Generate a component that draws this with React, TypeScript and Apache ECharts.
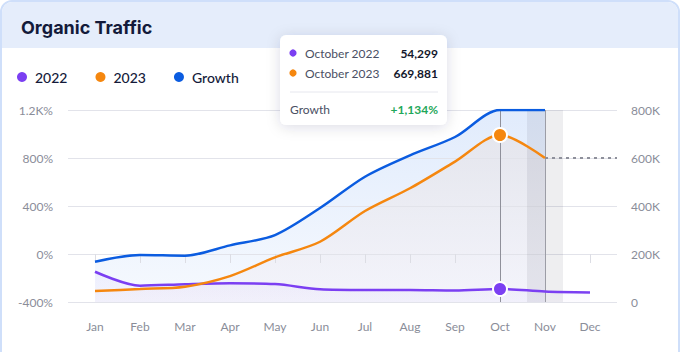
import React, { useEffect, useRef } from "react";
import * as echarts from "echarts";

const months = ["Jan", "Feb", "Mar", "Apr", "May", "Jun", "Jul", "Aug", "Sep", "Oct", "Nov", "Dec"];
const traffic2022 = [126000, 68000, 74000, 78000, 75000, 53000, 50000, 50000, 48000, 54299, 44000, 40000];
const traffic2023 = [46000, 54000, 64000, 108000, 186000, 251000, 379000, 474000, 585000, 696000, 600000];
const growthPct = [-64, -8, -14, 72, 158, 383, 644, 822, 975, 1200, 1200];
const forecast2023 = 600000;
const highlightIndex = 9; // October
const currentIndex = 10; // November
const leftTickLabels: Record<number, string> = { "-400": "-400%", 0: "0%", 400: "400%", 800: "800%", 1200: "1.2K%" };
const rightTickLabels: Record<number, string> = { 0: "0", 200000: "200K", 400000: "400K", 600000: "600K", 800000: "800K" };
const tooltipRows = [
  { label: "October 2022", value: "54,299", color: "#7b3ff2" },
  { label: "October 2023", value: "669,881", color: "#f5870f" },
];
const tooltipGrowth = { label: "Growth", value: "+1,134%" };

const X_MIN = -0.6;
const X_MAX = 11.6;

const C_PURPLE = "#7b3ff2";
const C_ORANGE = "#f5870f";
const C_BLUE = "#0b5ce0";
const FONT = "Lato";
const SMOOTH = 0.3;

const toPairs = (arr: number[], hi?: number, style?: any) =>
  arr.map((v, i) =>
    i === hi
      ? { value: [i, v], symbol: "circle", symbolSize: 14, itemStyle: style }
      : { value: [i, v] }
  );

export default function App() {
  const ref = useRef<HTMLDivElement>(null);
  useEffect(() => {
    if (!ref.current) return;
    const chart = echarts.init(ref.current, undefined, { renderer: "svg" });
    const idx = months.map((_, i) => i);
    const tipX = 280;
    const tipY = 35;
    const Z = 100;
    const tipChildren: any[] = [
      {
        type: "rect",
        z: Z,
        shape: { x: 0, y: 0, width: 167, height: 90, r: 6 },
        style: { fill: "#ffffff", shadowBlur: 14, shadowColor: "rgba(20,30,70,0.14)", shadowOffsetY: 2 },
      },
    ];
    tooltipRows.forEach((r, i) => {
      const y = 18 + i * 20;
      tipChildren.push(
        { type: "circle", z: Z + 1, shape: { cx: 13, cy: y, r: 3.6 }, style: { fill: r.color } },
        {
          type: "text",
          z: Z + 1,
          x: 25,
          y,
          style: { text: r.label, fill: "#4a4f63", font: `12px ${FONT}`, verticalAlign: "middle" },
        },
        {
          type: "text",
          z: Z + 1,
          x: 158,
          y,
          style: { text: r.value, fill: "#14182c", font: `bold 12px ${FONT}`, align: "right", verticalAlign: "middle" },
        }
      );
    });
    tipChildren.push(
      { type: "line", z: Z + 1, shape: { x1: 10, y1: 57, x2: 158, y2: 57 }, style: { stroke: "#e6e7ee", lineWidth: 1 } },
      {
        type: "text",
        z: Z + 1,
        x: 10,
        y: 74,
        style: { text: tooltipGrowth.label, fill: "#4a4f63", font: `12px ${FONT}`, verticalAlign: "middle" },
      },
      {
        type: "text",
        z: Z + 1,
        x: 158,
        y: 74,
        style: { text: tooltipGrowth.value, fill: "#1fa85a", font: `bold 12px ${FONT}`, align: "right", verticalAlign: "middle" },
      }
    );

    const areaBase = {
      type: "line",
      smooth: SMOOTH,
      symbol: "none",
      silent: true,
      z: 2,
      lineStyle: { width: 0 },
    };
    const lineBase = {
      type: "line",
      smooth: SMOOTH,
      symbol: "none",
      showSymbol: true,
      z: 5,
    };

    const option: any = {
      animation: false,
      textStyle: { fontFamily: FONT },
      title: {
        text: "Organic Traffic",
        left: 16,
        top: 13,
        textStyle: { fontSize: 18, fontWeight: 700, color: "#131a3a", fontFamily: "Inter" },
      },
      legend: {
        data: ["2022", "2023", "Growth"],
        left: 17,
        top: 70,
        padding: 0,
        icon: "circle",
        itemWidth: 10,
        itemHeight: 10,
        itemGap: 28,
        textStyle: { fontSize: 14, fontWeight: 500, color: "#141a3a", fontFamily: FONT, padding: [0, 0, 0, 3] },
      },
      grid: { left: 68, right: 63, top: 110, bottom: 50 },
      xAxis: {
        type: "value",
        min: X_MIN,
        max: X_MAX,
        z: 3,
        axisLine: { show: false },
        splitLine: { show: false },
        axisTick: { show: true, customValues: idx, length: 9, lineStyle: { color: "#dcdde4" } },
        axisLabel: {
          customValues: idx,
          formatter: (v: number) => months[Math.round(v)] ?? "",
          margin: 18,
          color: "#8a8d99",
          fontSize: 12,
          fontFamily: FONT,
        },
      },
      yAxis: [
        {
          type: "value",
          min: -400,
          max: 1200,
          interval: 400,
          z: 3,
          axisLine: { show: false },
          axisTick: { show: false },
          splitLine: { lineStyle: { color: "#e2e3ea", width: 1 } },
          axisLabel: {
            formatter: (v: number) => leftTickLabels[v] ?? String(v),
            margin: 15,
            color: "#8a8d99",
            fontSize: 12,
            fontFamily: FONT,
          },
        },
        {
          type: "value",
          min: 0,
          max: 800000,
          interval: 200000,
          z: 3,
          axisLine: { show: false },
          axisTick: { show: false },
          splitLine: { show: false },
          axisLabel: {
            formatter: (v: number) => rightTickLabels[v] ?? String(v),
            margin: 14,
            color: "#8a8d99",
            fontSize: 12,
            fontFamily: FONT,
          },
        },
      ],
      series: [
        {
          ...areaBase,
          name: "growthArea",
          yAxisIndex: 0,
          data: toPairs(growthPct),
          areaStyle: {
            origin: "start",
            color: new echarts.graphic.LinearGradient(0, 0, 0, 1, [
              { offset: 0, color: "rgba(40,115,235,0.2)" },
              { offset: 1, color: "rgba(40,115,235,0.06)" },
            ]),
          },
          markLine: {
            silent: true,
            symbol: "none",
            z: 4,
            label: { show: false },
            data: [
              { xAxis: highlightIndex, lineStyle: { color: "#8f909a", width: 1, type: "solid" } },
              { xAxis: currentIndex, lineStyle: { color: "#9c9da6", width: 1, type: "solid" } },
            ],
          },
        },
        {
          ...areaBase,
          name: "area2023",
          yAxisIndex: 1,
          data: toPairs(traffic2023),
          areaStyle: {
            origin: "start",
            color: new echarts.graphic.LinearGradient(0, 0, 0, 1, [
              { offset: 0, color: "#e5e3e7" },
              { offset: 1, color: "#f3f2fa" },
            ]),
          },
        },
        {
          ...areaBase,
          name: "area2022",
          yAxisIndex: 1,
          data: toPairs(traffic2022),
          areaStyle: {
            origin: "start",
            color: new echarts.graphic.LinearGradient(0, 0, 0, 1, [
              { offset: 0, color: "rgba(123,63,242,0.07)" },
              { offset: 1, color: "rgba(123,63,242,0.03)" },
            ]),
          },
          markArea: {
            silent: true,
            z: 3,
            itemStyle: { color: "rgba(30,30,60,0.075)" },
            data: [[{ xAxis: currentIndex - 0.4 }, { xAxis: currentIndex + 0.4 }]],
          },
        },
        {
          ...lineBase,
          name: "2022",
          yAxisIndex: 1,
          data: toPairs(traffic2022, highlightIndex, { color: C_PURPLE, borderColor: "#fff", borderWidth: 2 }),
          itemStyle: { color: C_PURPLE },
          lineStyle: { color: C_PURPLE, width: 2.5 },
        },
        {
          ...lineBase,
          name: "2023",
          yAxisIndex: 1,
          data: toPairs(traffic2023, highlightIndex, { color: C_ORANGE, borderColor: "#fff", borderWidth: 2 }),
          itemStyle: { color: C_ORANGE },
          lineStyle: { color: C_ORANGE, width: 2.5 },
          markLine: {
            silent: true,
            symbol: "none",
            z: 4,
            label: { show: false },
            lineStyle: { color: "#8e909b", width: 2, type: [3, 4] },
            data: [[{ coord: [currentIndex, forecast2023] }, { coord: [X_MAX, forecast2023] }]],
          },
        },
        {
          ...lineBase,
          name: "Growth",
          yAxisIndex: 0,
          data: toPairs(growthPct),
          itemStyle: { color: C_BLUE },
          lineStyle: { color: C_BLUE, width: 2.5 },
        },
      ],
      graphic: {
        elements: [
          {
            type: "group",
            x: tipX,
            y: tipY,
            z: Z,
            children: tipChildren,
          },
        ],
      },
    };
    chart.setOption(option);
    return () => chart.dispose();
  }, []);

  return (
    <div style={{ position: "fixed", left: 0, top: 0, width: 680, height: 352, overflow: "hidden", background: "#fff" }}>
      <div
        style={{
          position: "absolute",
          left: 0,
          top: 0,
          width: 680,
          height: 372,
          boxSizing: "border-box",
          border: "2px solid #cfdffa",
          borderRadius: 12,
          background: "#ffffff",
          overflow: "hidden",
        }}
      >
        <div style={{ height: 46, background: "#e5edfb" }} />
      </div>
      <div ref={ref} style={{ position: "absolute", left: 0, top: 0, width: 680, height: 352 }} />
    </div>
  );
}
